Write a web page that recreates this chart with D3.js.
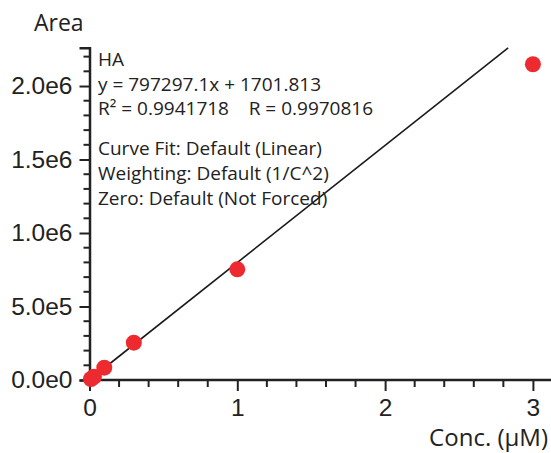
<!DOCTYPE html>
<html>
<head>
<meta charset="utf-8">
<script src="https://cdn.jsdelivr.net/npm/d3@7"></script>
<style>
  body { margin: 0; background: #fff; }
  svg { font-family: "Open Sans", sans-serif; }
</style>
</head>
<body>
<svg id="chart" width="551" height="453"></svg>
<script>
// calibration points
const conc = [0.01, 0.03, 0.1, 0.3, 1, 3];
const area = [7000, 22000, 84000, 254000, 753000, 2148000];

// fitted line
const slope = 797297.1;
const intercept = 1701.813;

const xTicks = [0, 1, 2, 3];
const yTicks = [0, 500000, 1000000, 1500000, 2000000];

const noteTop = ["HA", "y = 797297.1x + 1701.813", "R\u00b2 = 0.9941718    R = 0.9970816"];
const noteBottom = ["Curve Fit: Default (Linear)", "Weighting: Default (1/C^2)", "Zero: Default (Not Forced)"];

const svg = d3.select("#chart");
const axisColor = "#222";

const x = d3.scaleLinear().domain([0, 3.1]).range([89.5, 547.7]);
const y = d3.scaleLinear().domain([0, 2.26e6]).range([380, 47.8]);

// minor ticks
const xMinor = d3.range(0, 3.1, 0.2).filter(v => Math.abs(v - Math.round(v)) > 1e-6);
const yMinor = d3.range(0, 2.26e6, 1e5).filter(v => v % 5e5 !== 0);

const fmt = v => d3.format(".1e")(v).replace("+", "");

// x axis
const gx = svg.append("g").attr("transform", "translate(0,380)");
gx.call(d3.axisBottom(x).tickValues(xTicks).tickSize(11).tickPadding(8).tickFormat(d3.format("d")));
gx.append("g").selectAll("line").data(xMinor).join("line")
    .attr("x1", d => x(d)).attr("x2", d => x(d))
    .attr("y1", 0).attr("y2", 7);
gx.select(".domain").attr("d", "M" + x(0) + ",0H551");

// y axis
const gy = svg.append("g").attr("transform", "translate(89.5,0)");
gy.call(d3.axisLeft(y).tickValues(yTicks).tickSize(10).tickPadding(7).tickFormat(fmt));
gy.append("g").selectAll("line").data(yMinor).join("line")
    .attr("x1", 0).attr("x2", -6)
    .attr("y1", d => y(d)).attr("y2", d => y(d));

svg.selectAll(".domain").attr("stroke", axisColor).attr("stroke-width", 2.5);
svg.selectAll(".tick line, g > g > line").attr("stroke", axisColor).attr("stroke-width", 2);
svg.selectAll(".tick text").attr("fill", "#222").attr("font-size", 24.5);

// axis titles
svg.append("text").attr("x", 34).attr("y", 31)
    .attr("font-size", 23).attr("fill", "#222").text("Area");
svg.append("text").attr("x", 548).attr("y", 446).attr("text-anchor", "end")
    .attr("font-size", 24).attr("fill", "#222").text("Conc. (\u00b5M)");

// fit line, clipped at top of y range
const xEnd = (y.domain()[1] - intercept) / slope;
svg.append("line")
    .attr("x1", x(0)).attr("y1", y(intercept))
    .attr("x2", x(xEnd)).attr("y2", y(y.domain()[1]))
    .attr("stroke", "#1a1a1a").attr("stroke-width", 1.6);

// points
svg.append("g").selectAll("circle").data(conc).join("circle")
    .attr("cx", (d, i) => x(d))
    .attr("cy", (d, i) => y(area[i]))
    .attr("r", 8)
    .attr("fill", "#ee2a31");

// annotation
const note = svg.append("g").attr("font-size", 19).attr("fill", "#222");
note.selectAll(".top").data(noteTop).join("text")
    .attr("class", "top")
    .attr("x", 98).attr("y", (d, i) => 66 + i * 24.5)
    .style("white-space", "pre")
    .text(d => d);
note.selectAll(".bottom").data(noteBottom).join("text")
    .attr("class", "bottom")
    .attr("x", 98).attr("y", (d, i) => 155 + i * 25)
    .text(d => d);
</script>
</body>
</html>
